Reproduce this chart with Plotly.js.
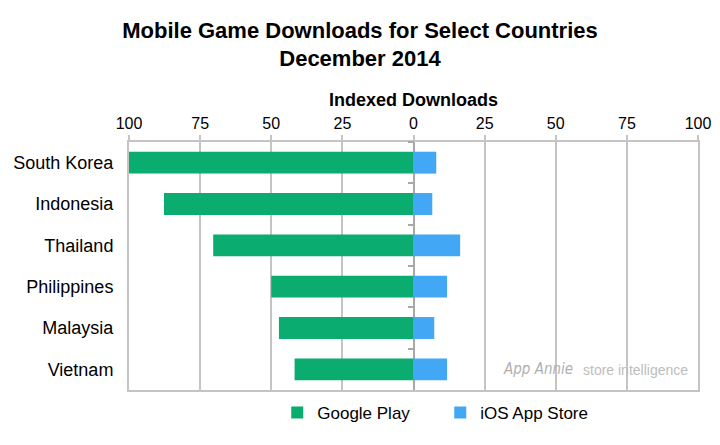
<!DOCTYPE html>
<html><head><meta charset="utf-8">
<script src="https://cdn.plot.ly/plotly-3.0.1.min.js"></script>
<style>body{margin:0;background:#fff}#c{width:720px;height:445px}</style>
</head><body><div id="c"></div>
<script>
const countries = ["South Korea","Indonesia","Thailand","Philippines","Malaysia","Vietnam"];
const googlePlay = [100, 87.7, 70.4, 50, 47.3, 41.8];
const iosAppStore = [8.0, 6.6, 16.4, 11.8, 7.3, 11.8];
const tickVals = [-100,-75,-50,-25,0,25,50,75,100];
const tickText = ["100","75","50","25","0","25","50","75","100"];

const green = "#0bac6f", blue = "#42a7f5", grid = "#c4c4c4";
const traces = [
  {type:"bar", orientation:"h", name:"Google Play", y:countries, x:googlePlay.map(v=>-v),
   marker:{color:green}, hoverinfo:"skip"},
  {type:"bar", orientation:"h", name:"iOS App Store", y:countries, x:iosAppStore,
   marker:{color:blue}, hoverinfo:"skip"},
  {type:"scatter", mode:"markers", y:countries, x:countries.map(()=>0), yaxis:"y2",
   marker:{opacity:0}, showlegend:false, hoverinfo:"skip"}
];
const layout = {
  width:720, height:445,
  margin:{l:129, r:22, t:142, b:55},
  paper_bgcolor:"#fff", plot_bgcolor:"#fff",
  font:{family:"Liberation Sans, Arial, sans-serif", color:"#000", size:16},
  title:{text:"<b>Mobile Game Downloads for Select Countries<br>December 2014</b>",
         font:{size:22}, x:0.5, xanchor:"center", xref:"container", y:0.915, yanchor:"middle"},
  barmode:"relative", bargap:0.47,
  xaxis:{side:"top", range:[-100,100], tickvals:tickVals, ticktext:tickText,
         showgrid:true, gridcolor:grid, gridwidth:2, zeroline:true, zerolinecolor:"#a8a8a8", zerolinewidth:2,
         showline:true, linecolor:grid, linewidth:2, mirror:true,
         ticks:"outside", ticklen:5, tickcolor:grid, tickwidth:2,
         tickfont:{size:16},
         title:{text:"<b>Indexed Downloads</b>", font:{size:18}, standoff:3}},
  yaxis:{type:"category", categoryorder:"array", categoryarray:countries, autorange:"reversed",
         showline:true, linecolor:grid, linewidth:2, mirror:true, showgrid:false,
         ticks:"", tickfont:{size:18}, ticklabelstandoff:10},
  yaxis2:{type:"category", overlaying:"y", matches:"y", anchor:"free", position:0.5,
          showticklabels:false, ticks:"outside", tickson:"boundaries", ticklen:6,
          tickcolor:"#a8a8a8", tickwidth:2, showline:false, showgrid:false},
  legend:{orientation:"h", x:0.547, xanchor:"center", y:-0.02, yanchor:"top",
          font:{size:17}, itemwidth:30, entrywidth:118, traceorder:"normal"},
  annotations:[
    {text:"<i>App Annie</i>", xref:"paper", yref:"paper", x:0.783, y:0.085, xanchor:"right", yanchor:"middle",
     showarrow:false, font:{size:15, color:"#b0b0b0", family:"DejaVu Sans Condensed, Liberation Sans, sans-serif"}},
    {text:"store intelligence", xref:"paper", yref:"paper", x:0.795, y:0.08, xanchor:"left", yanchor:"middle",
     showarrow:false, font:{size:14, color:"#bdbdbd"}}
  ]
};
Plotly.newPlot("c", traces, layout, {displayModeBar:false, staticPlot:true});
</script></body></html>
